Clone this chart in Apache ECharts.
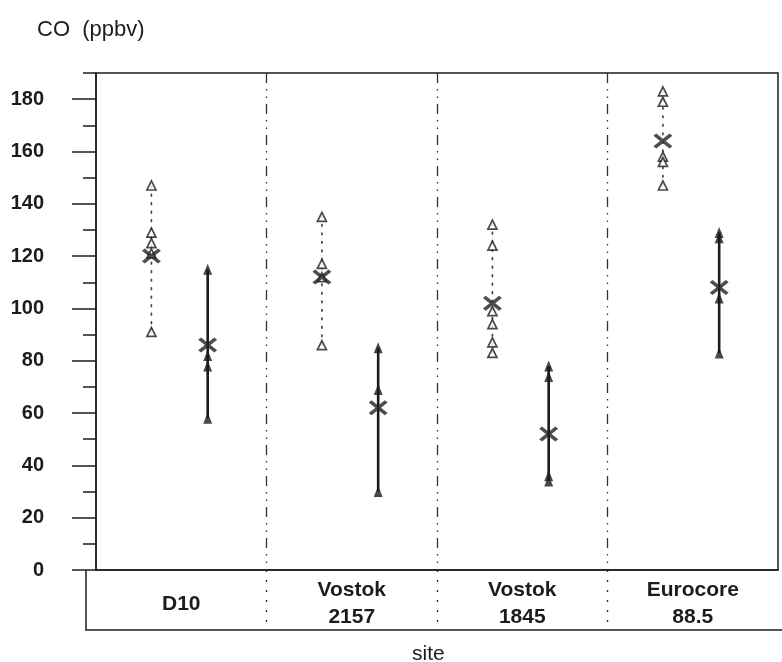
<!DOCTYPE html>
<html>
<head>
<meta charset="utf-8">
<script src="https://cdn.jsdelivr.net/npm/echarts@6/dist/echarts.min.js"></script>
<style>html,body{margin:0;padding:0;background:#fff}#c{width:782px;height:662px}</style>
</head>
<body>
<div id="c"></div>
<script>
// ---- data ----
const sites = ['D10', 'Vostok\n2157', 'Vostok\n1845', 'Eurocore\n88.5'];
const openValues = [
  [147, 129, 125, 121, 91],
  [135, 117, 112, 86],
  [132, 124, 99, 94, 87, 83],
  [183, 179, 158, 156, 147]
];
const filledValues = [
  [115, 82, 78, 58],
  [85, 69, 30],
  [78, 74, 36, 34],
  [129, 127, 104, 83]
];
const openMeans = [120, 112, 102, 164];
const filledMeans = [86, 62, 52, 108];
const yTicks = [0, 20, 40, 60, 80, 100, 120, 140, 160, 180];

// ---- layout/style ----
const OPEN_OFF = 0.325, FILLED_OFF = 0.655;
const INK = '#1c1c1c';
const FONT = "'Liberation Sans',Arial,sans-serif";
const XPATH = 'path://M0,3 L3,0 L10,7 L17,0 L20,3 L13,10 L20,17 L17,20 L10,13 L3,20 L0,17 L7,10 Z';

const series = [];
sites.forEach((s, i) => {
  const ov = openValues[i].slice().sort((a, b) => a - b);
  series.push({
    type: 'line', xAxisIndex: 0, yAxisIndex: 0, z: 2, symbol: 'none', silent: true,
    data: ov.map(v => [i + OPEN_OFF, v]),
    lineStyle: { color: '#444', width: 1.7, type: [1.5, 7], cap: 'round' }
  });
  const fv = filledValues[i].slice().sort((a, b) => a - b);
  series.push({
    type: 'line', xAxisIndex: 0, yAxisIndex: 0, z: 2, symbol: 'none', silent: true,
    data: fv.map(v => [i + FILLED_OFF, v]),
    lineStyle: { color: INK, width: 2.6 }
  });
});
series.push({
  type: 'scatter', xAxisIndex: 0, yAxisIndex: 0, z: 3,
  symbol: 'triangle', symbolSize: [9, 9],
  itemStyle: { color: '#fff', borderColor: INK, borderWidth: 1.7 },
  data: openValues.flatMap((arr, i) => arr.map(v => [i + OPEN_OFF, v]))
});
series.push({
  type: 'scatter', xAxisIndex: 0, yAxisIndex: 0, z: 3,
  symbol: 'triangle', symbolSize: [9, 11],
  itemStyle: { color: INK },
  data: filledValues.flatMap((arr, i) => arr.map(v => [i + FILLED_OFF, v]))
});
series.push({
  type: 'scatter', xAxisIndex: 0, yAxisIndex: 0, z: 4,
  symbol: XPATH, symbolSize: [19, 15],
  itemStyle: { color: '#222' },
  data: openMeans.map((v, i) => [i + OPEN_OFF, v])
});
series.push({
  type: 'scatter', xAxisIndex: 0, yAxisIndex: 0, z: 4,
  symbol: XPATH, symbolSize: [19, 15],
  itemStyle: { color: '#222' },
  data: filledMeans.map((v, i) => [i + FILLED_OFF, v])
});

const chart = echarts.init(document.getElementById('c'), null, { renderer: 'canvas' });
chart.setOption({
  animation: false,
  backgroundColor: '#fff',
  textStyle: { fontFamily: FONT },
  title: [
    { text: 'CO  (ppbv)', left: 32, top: 14, textStyle: { fontFamily: FONT, fontSize: 22, fontWeight: 'normal', color: INK } },
    { text: 'site', left: 407, top: 639, textStyle: { fontFamily: FONT, fontSize: 21, fontWeight: 'normal', color: INK } }
  ],
  grid: [
    { left: 96, right: 4, top: 73, bottom: 92, show: true, borderColor: INK, borderWidth: 1.5, backgroundColor: 'transparent' },
    { left: 96, right: 4, top: 570, height: 60, show: false }
  ],
  xAxis: [
    {
      gridIndex: 0, type: 'value', min: 0, max: 4, interval: 1,
      axisLine: { show: true, lineStyle: { color: INK, width: 1.5 } },
      axisTick: { show: false }, axisLabel: { show: false },
      splitLine: { show: true, showMinLine: false, showMaxLine: false,
        lineStyle: { color: '#333', width: 1.3, type: [10, 6, 1.5, 6, 1.5, 6] } }
    },
    {
      gridIndex: 1, type: 'category', data: sites, boundaryGap: true, position: 'bottom',
      axisLine: { show: false }, axisTick: { show: false },
      axisLabel: { show: true, margin: -26, verticalAlign: 'middle', lineHeight: 27,
        fontFamily: FONT, fontSize: 21, fontWeight: 'bold', color: INK, interval: 0 },
      splitLine: { show: true, showMinLine: false, showMaxLine: false,
        lineStyle: { color: '#333', width: 1.4, type: [2, 8] } }
    }
  ],
  yAxis: [
    {
      gridIndex: 0, type: 'value', min: 0, max: 190, interval: 10,
      axisLine: { show: true, lineStyle: { color: INK, width: 1.5 } },
      axisTick: { show: true, customValues: yTicks, length: 24, lineStyle: { color: INK, width: 1.5 } },
      axisLabel: { show: true, customValues: yTicks, margin: 52, fontFamily: FONT, fontSize: 20, fontWeight: 'bold', color: INK },
      splitLine: { show: false }
    },
    {
      gridIndex: 0, type: 'value', min: 0, max: 190, interval: 10, position: 'left',
      axisLine: { show: false },
      axisTick: { show: true, length: 13, lineStyle: { color: INK, width: 1.5 } },
      axisLabel: { show: false }, splitLine: { show: false }
    },
    { gridIndex: 1, type: 'value', show: false }
  ],
  graphic: [
    { type: 'polyline', silent: true, z: 10,
      shape: { points: [[86, 570], [86, 630], [782, 630]] },
      style: { stroke: INK, lineWidth: 1.5, fill: null } }
  ],
  series: series
});
</script>
</body>
</html>
